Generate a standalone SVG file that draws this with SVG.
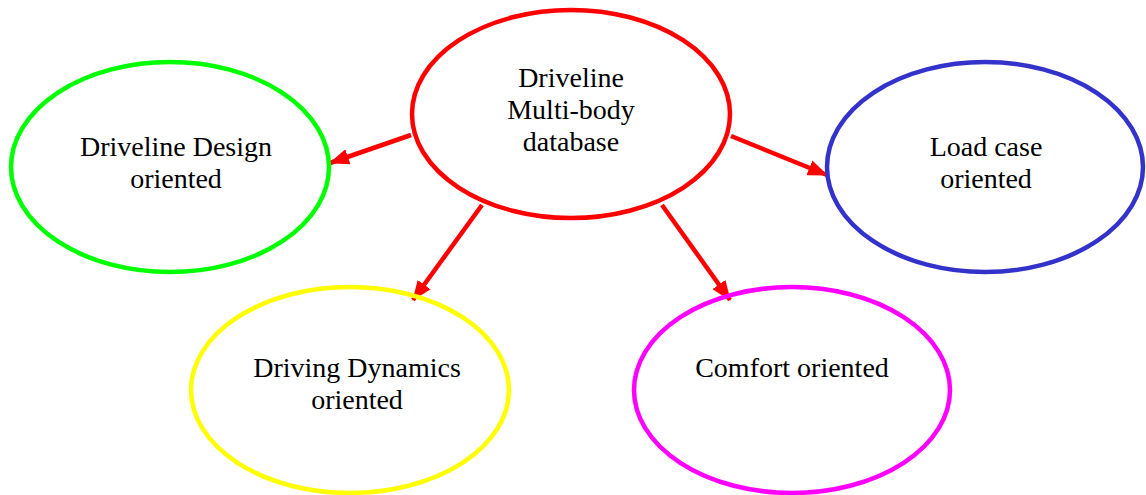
<svg xmlns="http://www.w3.org/2000/svg" width="1146" height="495" viewBox="0 0 1146 495">
<style>
.n ellipse{fill:none;stroke-width:4.5}
text{font-family:"Liberation Serif","Times New Roman",serif;font-size:28px;fill:#000;text-anchor:middle}
.c line{stroke:#ff0000;stroke-width:4.5;marker-end:url(#ah)}
</style>
<defs>
<marker id="ah" markerUnits="userSpaceOnUse" viewBox="0 0 20 16" refX="19" refY="8" markerWidth="20" markerHeight="16" orient="auto">
<path d="M0,0 L20,8 L0,16 Z" fill="#ff0000"/>
</marker>
</defs>
<g class="c" id="connectors">
<line x1="411" y1="135" x2="330" y2="163"/>
<line x1="482" y1="205" x2="413" y2="300"/>
<line x1="662" y1="205" x2="730" y2="300"/>
<line x1="731" y1="136" x2="827" y2="175"/>
</g>
<g class="n" id="center">
<ellipse cx="571" cy="114" rx="159" ry="104" stroke="#ff0000"/>
<text x="571" y="87">Driveline</text>
<text x="571" y="119">Multi-body</text>
<text x="571" y="151">database</text>
</g>
<g class="n" id="design">
<ellipse cx="170" cy="167" rx="159" ry="105" stroke="#00ff00"/>
<text x="176" y="156">Driveline Design</text>
<text x="176" y="188">oriented</text>
</g>
<g class="n" id="loadcase">
<ellipse cx="985" cy="167" rx="158" ry="105" stroke="#3333cc"/>
<text x="986" y="156">Load case</text>
<text x="986" y="188">oriented</text>
</g>
<g class="n" id="dynamics">
<ellipse cx="350" cy="390" rx="159" ry="103" stroke="#ffff00"/>
<text x="357" y="377">Driving Dynamics</text>
<text x="357" y="409">oriented</text>
</g>
<g class="n" id="comfort">
<ellipse cx="792" cy="390" rx="158" ry="103" stroke="#ff00ff"/>
<text x="792" y="377">Comfort oriented</text>
</g>
</svg>
